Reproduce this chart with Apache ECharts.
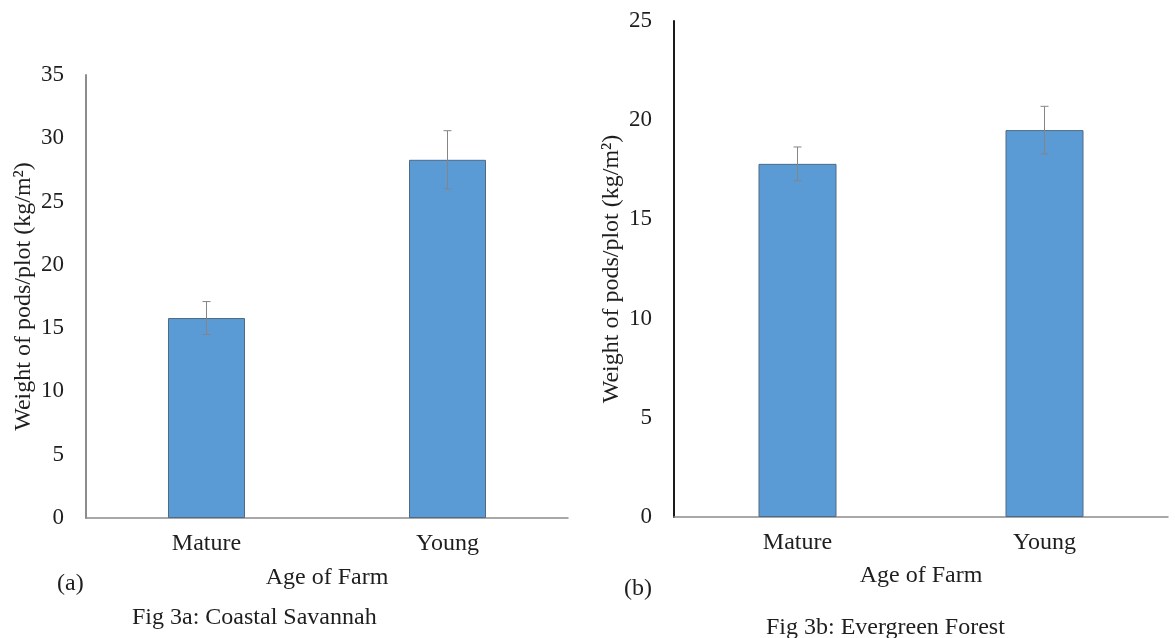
<!DOCTYPE html>
<html>
<head>
<meta charset="utf-8">
<script src="https://cdn.jsdelivr.net/npm/echarts@6/dist/echarts.min.js"></script>
<style>
  html, body { margin: 0; padding: 0; background: #fff; }
  #chart { width: 1175px; height: 638px; }
</style>
</head>
<body>
<div id="chart"></div>
<script>
// Age-of-farm categories shared by both panels
const categories = ['Mature', 'Young'];

// Panel (a): Coastal Savannah — mean weight of pods per plot and its error
const savannahMeans = [15.8, 28.3];
const savannahErrors = [1.3, 2.3];

// Panel (b): Evergreen Forest
const forestMeans = [17.8, 19.5];
const forestErrors = [0.85, 1.2];

// Value-axis tick settings
const savannahMax = 35;
const forestMax = 25;
const tickStep = 5;

const FONT = '"Liberation Serif", "Times New Roman", serif';
const TEXT = '#1e1e1e';
const BAR_FILL = '#5b9bd5';
const BAR_EDGE = '#4f6a86';
const ERR_COLOR = '#858585';

function errorData(means, errors) {
  return means.map((m, i) => [i, m, errors[i]]);
}

// Vertical error bar with small caps, positioned through the axis scales
function renderError(params, api) {
  const x = api.value(0);
  const m = api.value(1);
  const e = api.value(2);
  const top = api.coord([x, m + e]);
  const bot = api.coord([x, m - e]);
  const half = 4;
  const style = { stroke: ERR_COLOR, lineWidth: 1 };
  return {
    type: 'group',
    children: [
      { type: 'line', shape: { x1: top[0], y1: top[1], x2: bot[0], y2: bot[1] }, style },
      { type: 'line', shape: { x1: top[0] - half, y1: top[1], x2: top[0] + half, y2: top[1] }, style },
      { type: 'line', shape: { x1: bot[0] - half, y1: bot[1], x2: bot[0] + half, y2: bot[1] }, style }
    ]
  };
}

function xAxisFor(gridIndex, nameGap) {
  return {
    type: 'category',
    gridIndex,
    data: categories,
    name: 'Age of Farm',
    nameLocation: 'middle',
    nameGap,
    nameTextStyle: { fontFamily: FONT, fontSize: 24, color: TEXT },
    axisLine: { show: true, lineStyle: { color: '#8c8c8c', width: 1.5 } },
    axisTick: { show: false },
    axisLabel: { fontFamily: FONT, fontSize: 24, color: TEXT, margin: 14 },
    splitLine: { show: false }
  };
}

function yAxisFor(gridIndex, max, lineColor) {
  return {
    type: 'value',
    gridIndex,
    min: 0,
    max,
    interval: tickStep,
    name: 'Weight of pods/plot (kg/m²)',
    nameLocation: 'middle',
    nameRotate: 90,
    nameGap: 50,
    nameTextStyle: { fontFamily: FONT, fontSize: 24, color: TEXT },
    axisLine: { show: true, lineStyle: { color: lineColor, width: 2 } },
    axisTick: { show: false },
    axisLabel: { fontFamily: FONT, fontSize: 23, color: TEXT, margin: 22 },
    splitLine: { show: false }
  };
}

const chart = echarts.init(document.getElementById('chart'), null, { renderer: 'canvas' });

chart.setOption({
  backgroundColor: '#ffffff',
  animation: false,
  grid: [
    { left: 86, right: 607, top: 75, bottom: 120 },
    { left: 674, right: 7, top: 21, bottom: 121 }
  ],
  xAxis: [xAxisFor(0, 48), xAxisFor(1, 47)],
  yAxis: [yAxisFor(0, savannahMax, '#8c8c8c'), yAxisFor(1, forestMax, '#1a1a1a')],
  series: [
    {
      type: 'bar',
      xAxisIndex: 0,
      yAxisIndex: 0,
      data: savannahMeans,
      barWidth: 77,
      itemStyle: { color: BAR_FILL, borderColor: BAR_EDGE, borderWidth: 1 }
    },
    {
      type: 'custom',
      xAxisIndex: 0,
      yAxisIndex: 0,
      data: errorData(savannahMeans, savannahErrors),
      encode: { x: 0, y: 1 },
      renderItem: renderError,
      z: 5
    },
    {
      type: 'bar',
      xAxisIndex: 1,
      yAxisIndex: 1,
      data: forestMeans,
      barWidth: 78,
      itemStyle: { color: BAR_FILL, borderColor: BAR_EDGE, borderWidth: 1 }
    },
    {
      type: 'custom',
      xAxisIndex: 1,
      yAxisIndex: 1,
      data: errorData(forestMeans, forestErrors),
      encode: { x: 0, y: 1 },
      renderItem: renderError,
      z: 5
    }
  ],
  graphic: [
    { type: 'text', left: 57, top: 572, style: { text: '(a)', font: '24px ' + FONT, fill: TEXT } },
    { type: 'text', left: 132, top: 606, style: { text: 'Fig 3a: Coastal Savannah', font: '24px ' + FONT, fill: TEXT } },
    { type: 'text', left: 624, top: 577, style: { text: '(b)', font: '24px ' + FONT, fill: TEXT } },
    { type: 'text', left: 766, top: 616, style: { text: 'Fig 3b: Evergreen Forest', font: '24px ' + FONT, fill: TEXT } }
  ]
});
</script>
</body>
</html>
